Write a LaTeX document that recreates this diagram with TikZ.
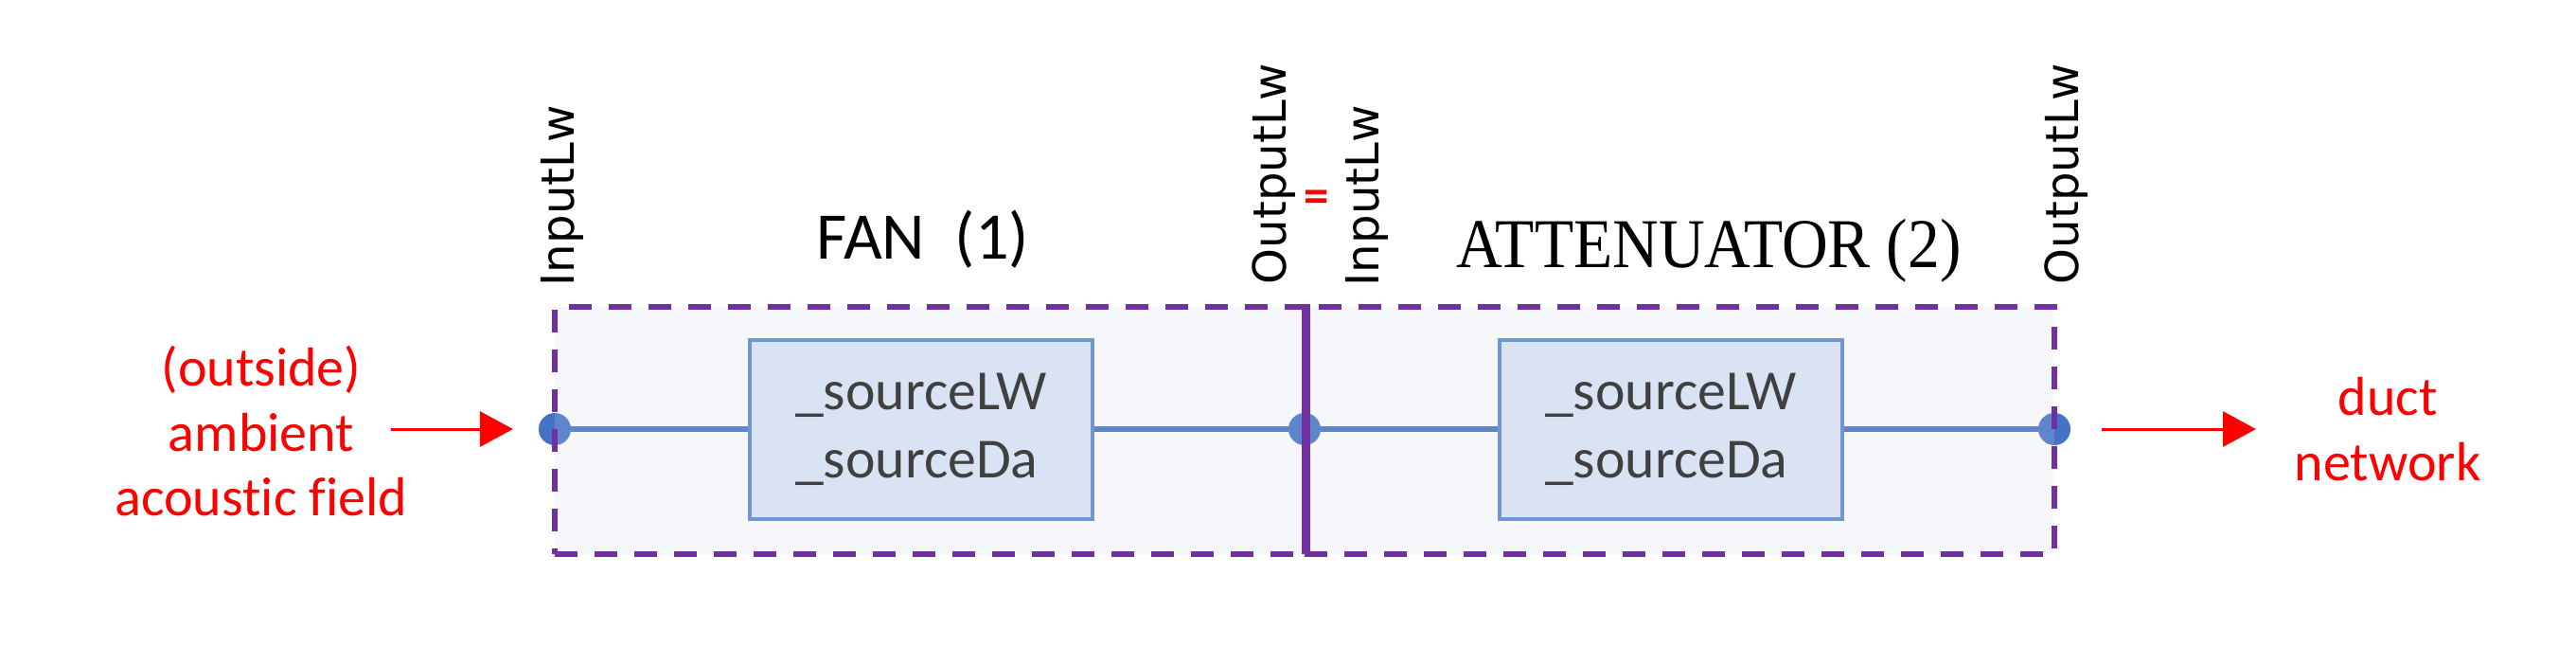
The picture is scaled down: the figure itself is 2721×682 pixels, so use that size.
\documentclass[tikz,border=0pt]{standalone}
\usepackage{fontspec}
\setmainfont{Carlito}[Ligatures=CommonOff]
\newfontfamily\tagfont{DejaVu Sans}
\newfontfamily\titlefont{Liberation Serif}
\usetikzlibrary{arrows.meta}
\definecolor{zonepurple}{HTML}{7030A0}
\definecolor{zonefill}{HTML}{CDD7EB}
\definecolor{portblue}{HTML}{4472C4}
\definecolor{coreedge}{HTML}{7196D2}
\definecolor{corefill}{HTML}{DAE3F3}
\definecolor{coretext}{HTML}{404040}
\definecolor{notered}{HTML}{FF0000}

\begin{document}
\begin{tikzpicture}[
                x=0.01cm, y=-0.01cm,
                port/.style = {
                    circle,
                    fill=portblue,
                    minimum size = #1,
                    inner sep = 0pt,
                    outer sep = 0pt
                },
                port/.default = 0.34cm,
                wire/.style = {draw=portblue, line width=0.056cm},
                zone/.style = {
                    draw=zonepurple,
                    line width=0.06cm,
                    dash pattern=on 0.24cm off 0.18cm,
                    fill=zonefill,
                    fill opacity=0.2,
                    minimum width=7.92cm,
                    minimum height=2.61cm,
                    inner sep=0pt
                },
                core/.style = {
                    draw=coreedge,
                    line width=0.04cm,
                    fill=corefill,
                    minimum width=3.62cm,
                    minimum height=1.89cm,
                    align=left,
                    text=coretext,
                    font=\fontsize{17}{20.5}\selectfont
                },
                tag/.style = {rotate=90, anchor=base west, inner sep=0pt, font=\tagfont\fontsize{13.7}{16}\selectfont},
                note/.style = {text=notered, align=center, font=\fontsize{16.5}{19.5}\selectfont},
                flow/.style = {draw=notered, line width=0.03cm, -{Triangle[length=0.35cm, width=0.37cm]}}
            ]
            \useasboundingbox (0,0) rectangle (2721,682);
            % ports
            \node[port] (1) at (586,453) {};
            \node[port] (2) at (1378,453) {};
            \node[port] (3) at (2170,453) {};
            \draw[wire] (1) -- (2);
            \draw[wire] (2) -- (3);
            % 
            \node[zone] (fan) at (982,454.5) {};
            \node[zone] (att) at (1774,454.5) {};
            \draw[draw=zonepurple, line width=0.06cm] (fan.north east) -- (fan.south east);
            % 
            \node[core] (fancore) at (973,453.5) {\_sourceLW\\\_sourceDa};
            \node[core] (attcore) at (1765,453.5) {\_sourceLW\\\_sourceDa};
            % 
            \node[font=\fontsize{20}{24}\selectfont, anchor=base] (fantitle) at (975,273) {FAN~~(1)};
            \node[font=\titlefont\fontsize{21}{24}\selectfont, anchor=base, xscale=0.914] (atttitle) at (1805,282) {ATTENUATOR (2)};
            % 
            \node[tag] (in1) at (606,303) {InputLw};
            \node[tag] (out1) at (1358,301) {OutputLw};
            \node[tag] (in2) at (1456,303) {InputLw};
            \node[tag] (out2) at (2195,301) {OutputLw};
            \node[text=notered, font=\bfseries\fontsize{15}{15}\selectfont] (eq) at (1391,213) {=};
            % 
            \node[note] (outside) at (276,455) {(outside)\\ambient\\acoustic field};
            \node[note] (duct) at (2522,453) {duct\\network};
            \coordinate (src) at (413,453);
            \coordinate (sink) at (2383,453);
            \draw[flow, shorten >=0.27cm] (src) -- (1);
            \draw[flow, shorten <=0.33cm] (3) -- (sink);
        \end{tikzpicture}
\end{document}
